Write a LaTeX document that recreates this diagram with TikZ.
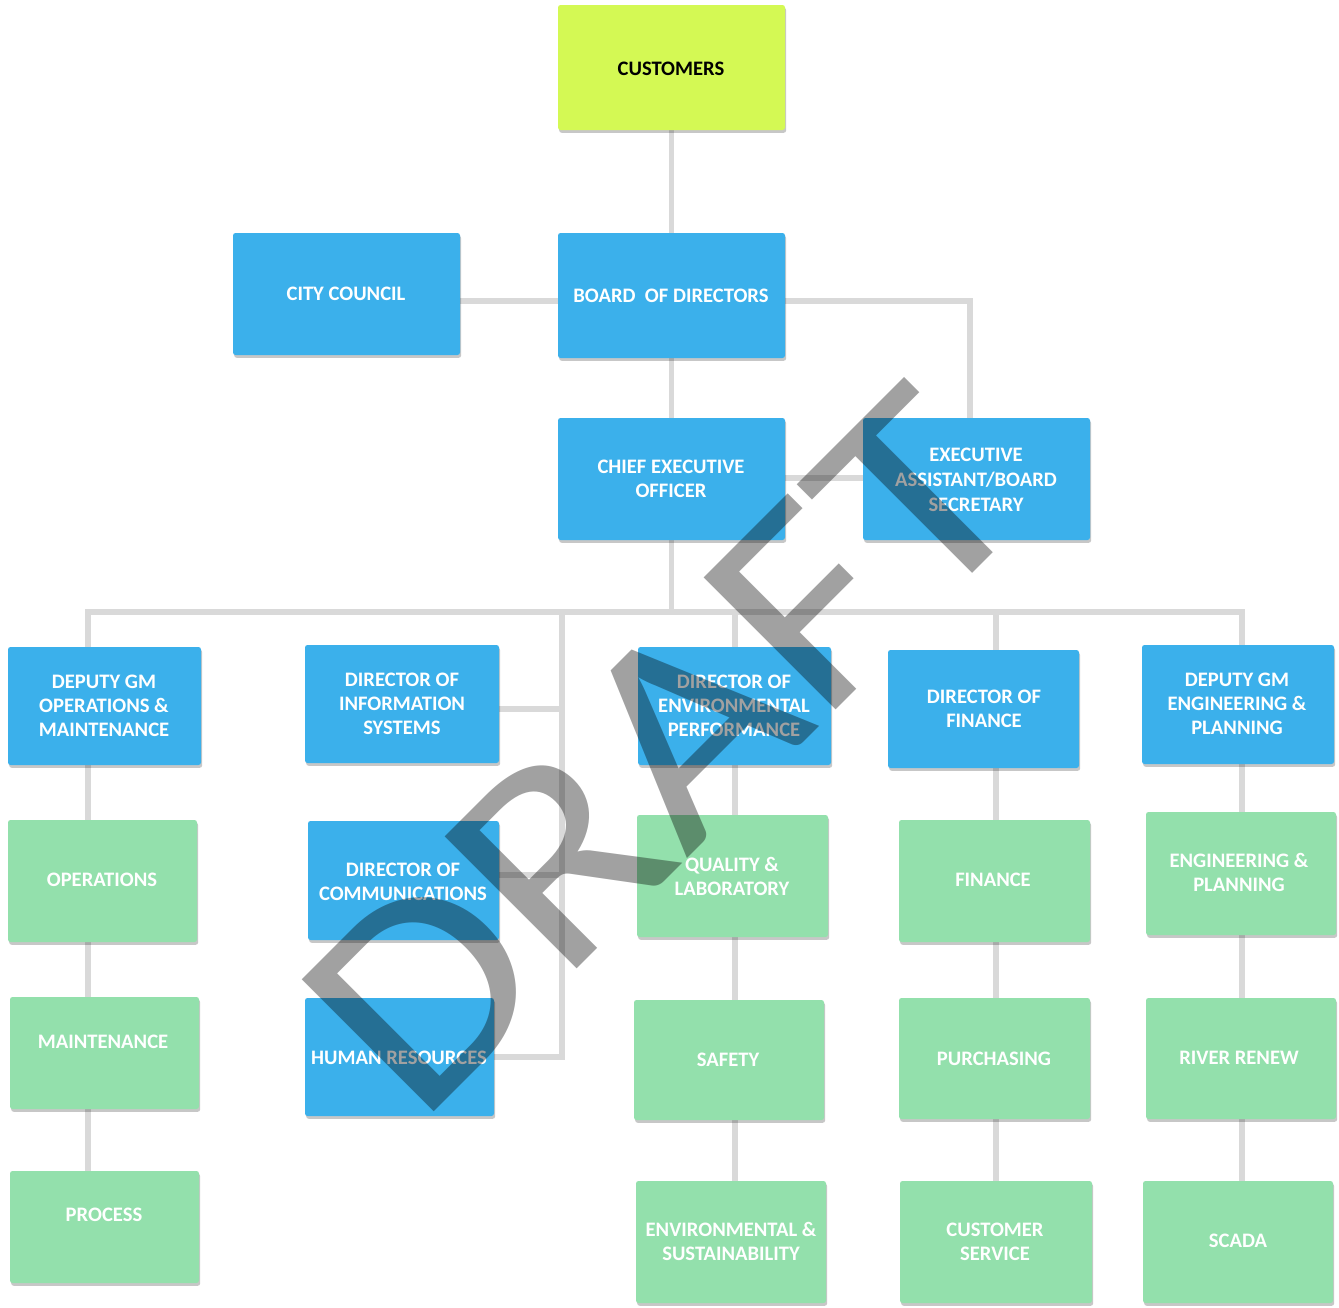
\documentclass[tikz,border=0pt]{standalone}
\usepackage{fontspec}
\usepackage{graphicx}
\setmainfont{Carlito}
\newfontfamily\wmfont{Carlito}
\usetikzlibrary{shadows}
\definecolor{boxblue}{RGB}{59,176,235}
\definecolor{boxgreen}{RGB}{147,224,172}
\definecolor{boxlime}{RGB}{212,249,84}
\definecolor{linegray}{RGB}{217,217,217}
\pgfdeclarelayer{bg}
\pgfsetlayers{bg,main}
\tikzset{
  orgbase/.style={rectangle, rounded corners=2.5pt, inner sep=0, draw=none,
    drop shadow={shadow xshift=1.2pt, shadow yshift=-2.8pt, opacity=0.22, fill=black}},
  bluebox/.style={orgbase, fill=boxblue},
  greenbox/.style={orgbase, fill=boxgreen},
  limebox/.style={orgbase, fill=boxlime},
  wtext/.style={text=white, font=\bfseries\fontsize{20.6}{24}\selectfont, align=center, inner sep=0},
  btext/.style={wtext, text=black},
  conn/.style={draw=linegray, line width=5.5pt},
  wm/.style={font=\wmfont\fontsize{291}{300}\selectfont, text=black, opacity=0.37, inner sep=0}
}
\newcommand\orgbox[6]{\node[#2, minimum width=#5, minimum height=#6] (#1) at (#3,#4) {};}
\begin{document}
\begin{tikzpicture}[x=1pt, y=-1pt]
\useasboundingbox (0,0) rectangle (1339,1307);
% boxes
\orgbox{cust}{limebox}{671.5}{67.5}{227}{125}
\orgbox{city}{bluebox}{346.5}{294}{227}{122}
\orgbox{board}{bluebox}{671.5}{295.5}{227}{125}
\orgbox{ceo}{bluebox}{671.5}{479}{227}{122}
\orgbox{exec}{bluebox}{976.5}{479}{227}{122}
\orgbox{dgo}{bluebox}{104.5}{706}{193}{118}
\orgbox{dis}{bluebox}{402}{704}{194}{118}
\orgbox{dep}{bluebox}{734.5}{706}{193}{118}
\orgbox{dfin}{bluebox}{983.5}{709}{191}{118}
\orgbox{dge}{bluebox}{1238}{704.5}{192}{119}
\orgbox{ops}{greenbox}{102.5}{881}{189}{122}
\orgbox{dcom}{bluebox}{403.5}{880.5}{191}{119}
\orgbox{qual}{greenbox}{732.5}{876}{191}{122}
\orgbox{fin}{greenbox}{994.5}{881}{191}{122}
\orgbox{eng}{greenbox}{1241}{873.5}{190}{123}
\orgbox{maint}{greenbox}{104.5}{1053}{189}{112}
\orgbox{hr}{bluebox}{399.5}{1057}{189}{118}
\orgbox{safe}{greenbox}{729}{1060}{190}{120}
\orgbox{purch}{greenbox}{994.5}{1058.5}{191}{121}
\orgbox{river}{greenbox}{1241}{1058.5}{190}{121}
\orgbox{proc}{greenbox}{104.5}{1227}{189}{112}
\orgbox{envs}{greenbox}{731}{1242}{190}{122}
\orgbox{cs}{greenbox}{996}{1242}{192}{122}
\orgbox{scada}{greenbox}{1238}{1242}{190}{122}
% texts
\node[btext] (cust-t) at (671,69) {CUSTOMERS};
\node[wtext] (city-t) at (346,293.5) {CITY COUNCIL};
\node[wtext] (board-t) at (671,295.5) {BOARD\ \ OF DIRECTORS};
\node[wtext] (ceo-t) at (671,478.5) {CHIEF EXECUTIVE\\OFFICER};
\node[wtext, font=\bfseries\fontsize{20.6}{25}\selectfont] (exec-t) at (976,479.5) {EXECUTIVE\\ASSISTANT/BOARD\\SECRETARY};
\node[wtext] (dgo-t) at (104,705.5) {DEPUTY GM\\OPERATIONS \&\\MAINTENANCE};
\node[wtext] (dis-t) at (402,703.5) {DIRECTOR OF\\INFORMATION\\SYSTEMS};
\node[wtext] (dep-t) at (734,705.5) {DIRECTOR OF\\ENVIRONMENTAL\\PERFORMANCE};
\node[wtext] (dfin-t) at (984,708.5) {DIRECTOR OF\\FINANCE};
\node[wtext] (dge-t) at (1237,703.5) {DEPUTY GM\\ENGINEERING \&\\PLANNING};
\node[wtext] (ops-t) at (102,879.5) {OPERATIONS};
\node[wtext] (dcom-t) at (403,881.5) {DIRECTOR OF\\COMMUNICATIONS};
\node[wtext] (qual-t) at (732,876.5) {QUALITY \&\\LABORATORY};
\node[wtext] (fin-t) at (993,879.5) {FINANCE};
\node[wtext] (eng-t) at (1239,872.5) {ENGINEERING \&\\PLANNING};
\node[wtext] (maint-t) at (103,1041.5) {MAINTENANCE};
\node[wtext] (hr-t) at (399,1057.5) {HUMAN RESOURCES};
\node[wtext] (safe-t) at (728,1059.5) {SAFETY};
\node[wtext] (purch-t) at (994,1058.5) {PURCHASING};
\node[wtext] (river-t) at (1239,1057.5) {RIVER RENEW};
\node[wtext] (proc-t) at (104,1214.5) {PROCESS};
\node[wtext] (envs-t) at (731,1241.5) {ENVIRONMENTAL \&\\SUSTAINABILITY};
\node[wtext] (cs-t) at (995,1241.5) {CUSTOMER\\SERVICE};
\node[wtext] (scada-t) at (1238,1240.5) {SCADA};
% junction coordinates
\coordinate (j1) at (970,301);
\coordinate (j2) at (0,478);
\coordinate (busL) at (88,612);
\coordinate (c2) at (562,612);
\coordinate (c3) at (735,612);
\coordinate (c4) at (996,612);
\coordinate (c5) at (1242,612);
\coordinate (isj) at (562,709);
\coordinate (cmj) at (562,875);
\coordinate (hrj) at (562,1057);
\begin{pgfonlayer}{bg}
\draw[conn] (cust.south) -- (board.north);
\draw[conn] (city.east |- j1) -- (board.west |- j1);
\draw[conn] (board.east |- j1) -- (j1) -- (exec.north -| j1);
\draw[conn] (board.south) -- (ceo.north);
\draw[conn] (ceo.east |- j2) -- (exec.west |- j2);
\draw[conn] (ceo.south) -- (ceo.south |- busL);
\draw[conn, line cap=rect] (busL |- proc.north) -- (busL) -- (c5) -- (c5 |- scada.north);
\draw[conn] (c2) -- (hrj) -- (hr.east |- hrj);
\draw[conn] (isj) -- (dis.east |- isj);
\draw[conn] (cmj) -- (dcom.east |- cmj);
\draw[conn] (c3) -- (c3 |- envs.north);
\draw[conn] (c4) -- (c4 |- cs.north);
\end{pgfonlayer}
% watermark
\node[wm, rotate=45, anchor=base west] (draft) at (418,1128) {\scalebox{1.125}[1]{DRAFT}};
\end{tikzpicture}
\end{document}
